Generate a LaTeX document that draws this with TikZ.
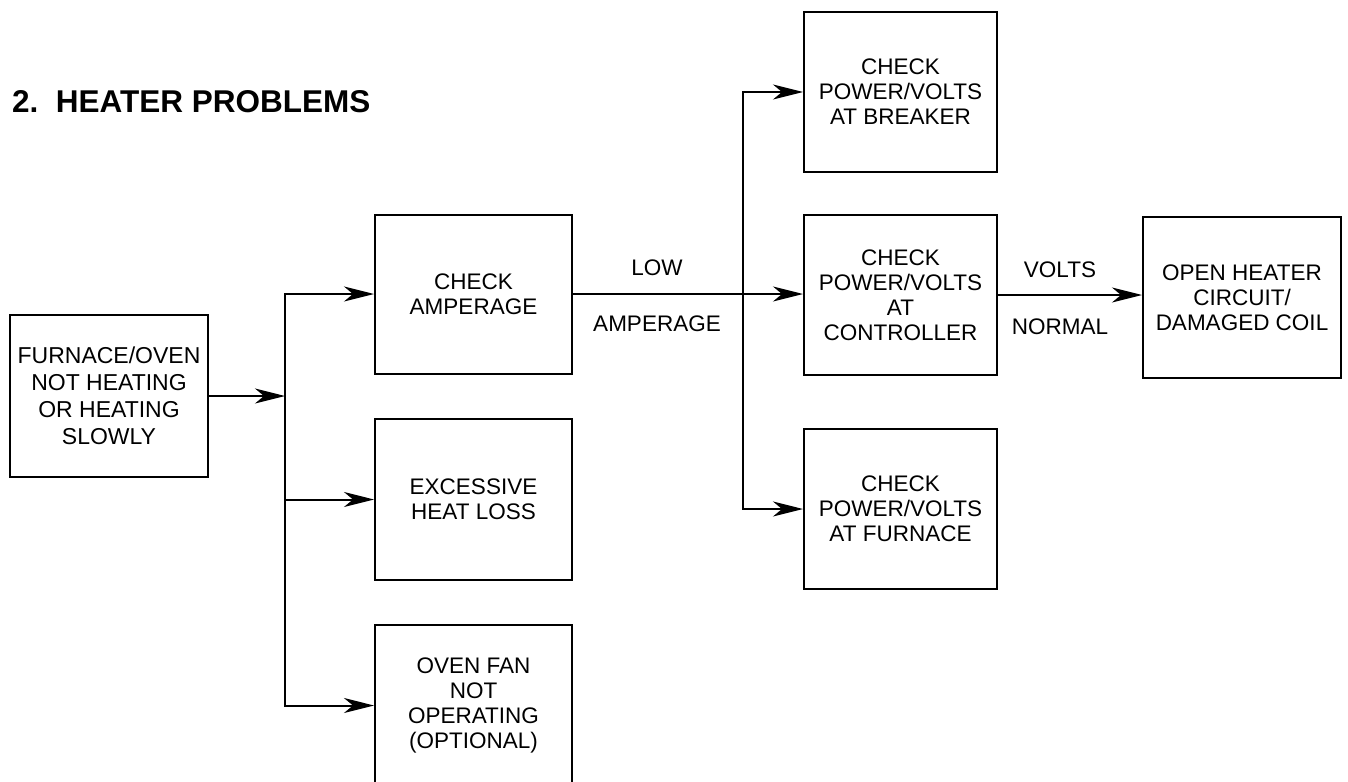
\documentclass[tikz,border=0pt]{standalone}
\usepackage{fontspec}
\setmainfont{Liberation Sans}
\usetikzlibrary{arrows.meta}
\begin{document}
\begin{tikzpicture}[x=1pt,y=-1pt,
  box/.style={draw,line width=2pt,rectangle,inner sep=0pt,align=center,
    minimum width=197pt,font=\fontsize{22.5}{25}\selectfont},
  lbl/.style={inner sep=0pt,font=\fontsize{22.5}{25}\selectfont},
  conn/.style={line width=2pt},
  arr/.style={line width=2pt,-{Stealth[length=30pt,width=15pt,inset=9pt]}}]
\useasboundingbox (0,0) rectangle (1348,781);
\fill[white] (0,0) rectangle (1348,781);
% title
\node[anchor=base west,inner sep=0pt,font=\fontsize{31.5}{36}\selectfont\bfseries] (title) at (12,113) {2.\ \ HEATER PROBLEMS};
% boxes
\node[box,minimum width=198pt,minimum height=162pt,font=\fontsize{23}{27}\selectfont] (furn) at (109,396) {FURNACE/OVEN\\NOT HEATING\\OR HEATING\\SLOWLY};
\node[box,minimum height=159pt] (amp) at (473.5,294) {CHECK\\AMPERAGE};
\node[box,minimum height=161pt] (heat) at (473.5,499.5) {EXCESSIVE\\HEAT LOSS};
\node[box,minimum height=161pt] (fan) at (473.5,705.5) {OVEN FAN\\NOT\\OPERATING\\(OPTIONAL)};
\node[box,minimum width=193pt,minimum height=160pt] (brk) at (900.5,92) {CHECK\\POWER/VOLTS\\AT BREAKER};
\node[box,minimum width=193pt,minimum height=160pt] (ctrl) at (900.5,295) {CHECK\\POWER/VOLTS\\AT\\CONTROLLER};
\node[box,minimum width=193pt,minimum height=160pt] (fur2) at (900.5,509) {CHECK\\POWER/VOLTS\\AT FURNACE};
\node[box,minimum width=198pt,minimum height=161pt] (open) at (1242,297.5) {OPEN HEATER\\CIRCUIT/\\DAMAGED COIL};
% trunk 1
\coordinate (tj) at (285,396);
\coordinate (ta) at (285,294);
\coordinate (tf) at (285,705.5);
\draw[arr] (furn.east) -- (tj);
\draw[conn,line cap=rect] (ta) -- (tf);
\draw[arr] (ta) -- (amp.west);
\draw[arr] (heat.west -| tj) -- (heat.west);
\draw[arr] (tf) -- (fan.west);
% amperage to controller
\draw[arr] (amp.east) -- (amp.east -| ctrl.west);
\node[lbl] (low) at (657,268) {LOW};
\node[lbl] (lowamp) at (657,324) {AMPERAGE};
% trunk 2
\coordinate (sb) at (743,92);
\coordinate (sf) at (743,509);
\draw[conn,line cap=rect] (sb) -- (sf);
\draw[arr] (sb) -- (brk.west);
\draw[arr] (sf) -- (fur2.west);
% controller to open heater
\draw[arr] (ctrl.east) -- (ctrl.east -| open.west);
\node[lbl] (volts) at (1060,270) {VOLTS};
\node[lbl] (normal) at (1060,327) {NORMAL};
\end{tikzpicture}
\end{document}
